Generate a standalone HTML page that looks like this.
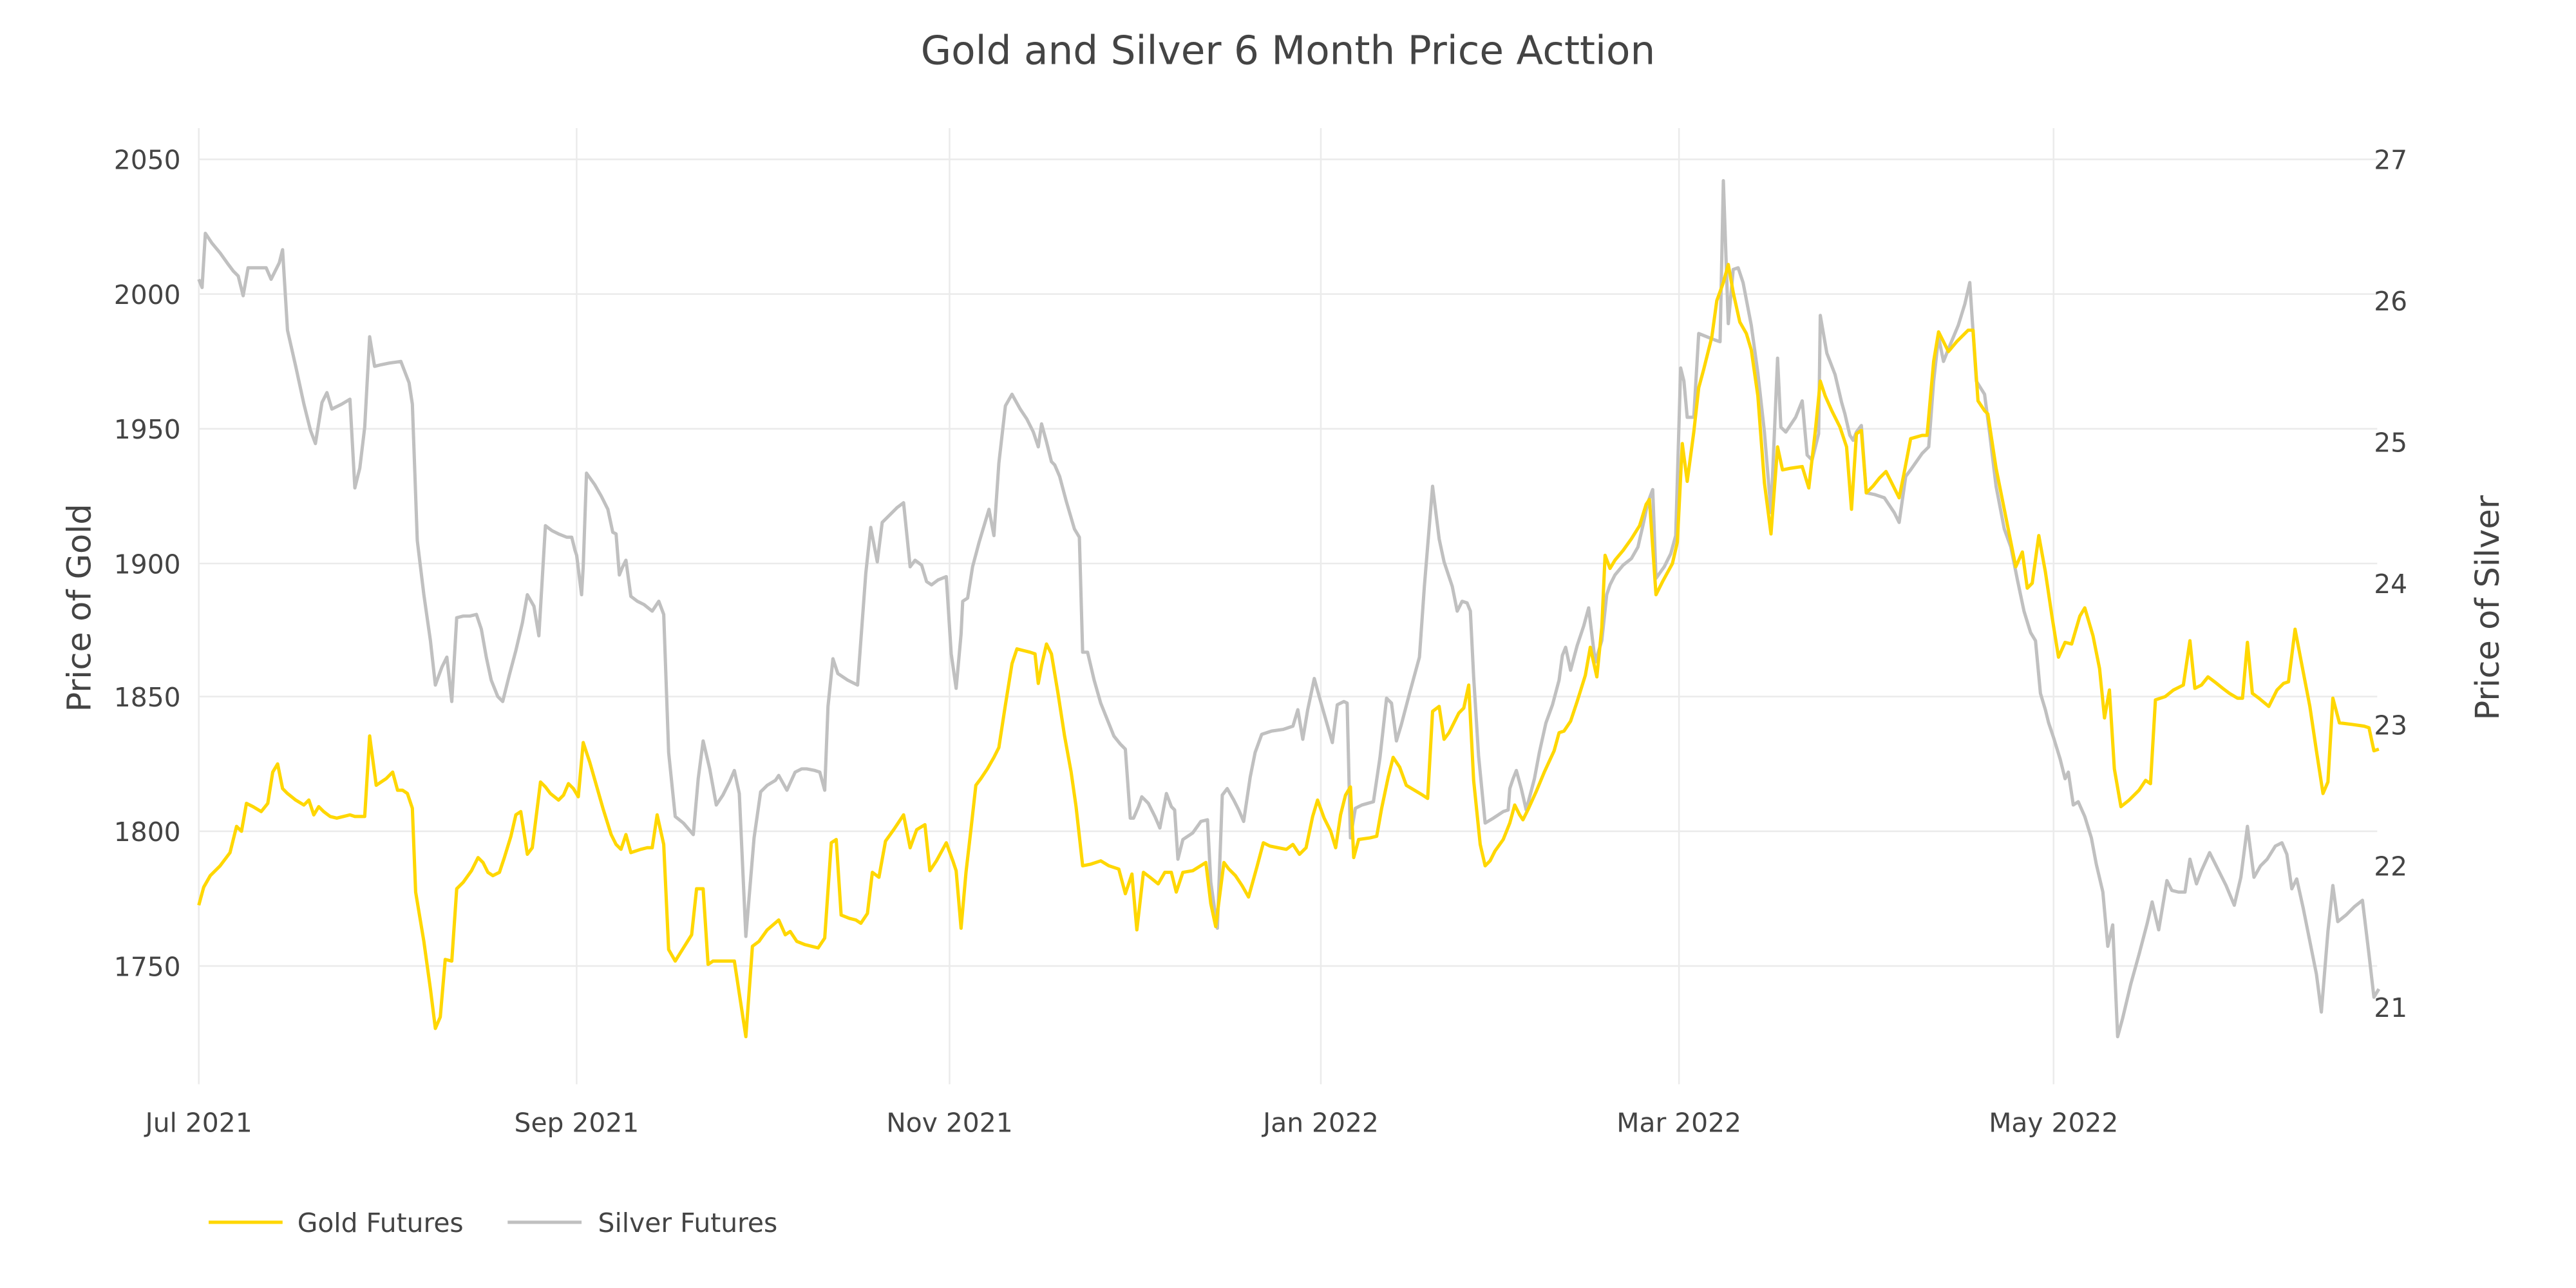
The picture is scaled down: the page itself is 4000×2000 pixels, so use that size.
<!DOCTYPE html>
<html><head><meta charset="utf-8"><style>
html,body{margin:0;padding:0;background:#fff;}
svg{display:block;}
text{font-family:"DejaVu Sans","Liberation Sans",sans-serif;fill:#444;}
</style></head><body>
<svg width="4000" height="2000" viewBox="0 0 1568 784" xmlns="http://www.w3.org/2000/svg">
<rect width="1568" height="784" fill="#fff"/>
<g stroke="#ebebeb" stroke-width="1">
<line x1="121" x2="1447" y1="97" y2="97"/><line x1="121" x2="1447" y1="179" y2="179"/><line x1="121" x2="1447" y1="261" y2="261"/><line x1="121" x2="1447" y1="343" y2="343"/><line x1="121" x2="1447" y1="424" y2="424"/><line x1="121" x2="1447" y1="506" y2="506"/><line x1="121" x2="1447" y1="588" y2="588"/>
<line x1="121" x2="121" y1="78" y2="660"/><line x1="351" x2="351" y1="78" y2="660"/><line x1="578" x2="578" y1="78" y2="660"/><line x1="804" x2="804" y1="78" y2="660"/><line x1="1022" x2="1022" y1="78" y2="660"/><line x1="1250" x2="1250" y1="78" y2="660"/>
</g>
<text x="784" y="39" font-size="24" text-anchor="middle">Gold and Silver 6 Month Price Acttion</text>
<g font-size="16" text-anchor="end">
<text x="110" y="103">2050</text><text x="110" y="185">2000</text><text x="110" y="267">1950</text><text x="110" y="349">1900</text><text x="110" y="430">1850</text><text x="110" y="512">1800</text><text x="110" y="594">1750</text>
</g>
<g font-size="16" text-anchor="start">
<text x="1445" y="103">27</text><text x="1445" y="189">26</text><text x="1445" y="275">25</text><text x="1445" y="361">24</text><text x="1445" y="447">23</text><text x="1445" y="533">22</text><text x="1445" y="619">21</text>
</g>
<g font-size="16" text-anchor="middle">
<text x="121" y="689">Jul 2021</text><text x="351" y="689">Sep 2021</text><text x="578" y="689">Nov 2021</text><text x="804" y="689">Jan 2022</text><text x="1022" y="689">Mar 2022</text><text x="1250" y="689">May 2022</text>
</g>
<text font-size="20" text-anchor="middle" transform="translate(55,370) rotate(-90)">Price of Gold</text>
<text font-size="20" text-anchor="middle" transform="translate(1521,370) rotate(-90)">Price of Silver</text>
<polyline fill="none" stroke="#c0c0c0" stroke-width="2" stroke-linejoin="round" points="121,170 123,175 125,142 129,148 134,154 139,161 142,165 145,168 148,180 151,163 156,163 162,163 165,170 170,160 172,152 175,201 180,223 185,246 189,262 192,270 196,245 199,239 202,249 208,246 213,243 216,297 219,285 222,260 225,205 228,223 232,222 237,221 244,220 249,233 251,246 254,329 258,362 262,390 265,417 269,406 272,400 275,427 278,376 282,375 286,375 290,374 293,383 296,400 299,414 303,424 306,427 310,411 314,396 318,379 321,362 325,369 328,387 332,320 336,323 340,325 345,327 348,327 350,335 351,338 354,362 355,345 357,288 362,295 366,302 370,310 373,324 375,325 377,350 379,345 381,341 384,363 388,366 392,368 397,372 401,366 404,374 407,458 411,497 416,501 422,508 425,474 428,451 432,468 436,490 440,484 444,476 447,469 450,483 454,570 459,510 463,482 467,478 472,475 474,472 479,481 484,470 488,468 491,468 496,469 499,470 502,481 504,430 507,401 510,410 516,414 522,417 527,349 530,321 534,342 537,318 541,314 546,309 550,306 554,345 557,341 561,344 564,354 567,356 571,353 576,351 579,398 582,419 585,386 586,366 589,364 592,345 596,330 602,310 605,326 608,282 612,247 616,240 621,249 625,255 629,263 632,272 634,258 637,269 640,281 642,283 645,290 649,305 654,322 657,327 659,397 662,397 666,414 670,428 674,438 678,448 682,453 685,456 688,498 690,498 693,491 695,485 699,489 703,497 706,504 710,483 713,491 715,493 717,523 720,511 726,507 731,500 735,499 737,537 741,565 744,484 747,480 751,487 754,493 757,500 761,473 764,458 768,447 774,445 781,444 787,442 790,432 793,450 796,432 800,413 803,424 807,438 811,452 814,429 818,427 820,428 822,510 825,492 829,490 836,488 840,461 844,425 847,428 850,451 853,441 858,422 864,400 867,357 872,296 876,328 879,342 884,357 887,372 890,366 893,367 895,372 897,412 900,460 904,501 909,498 915,494 918,493 919,480 921,474 923,469 926,480 929,493 934,474 937,458 941,440 945,429 949,414 951,399 953,394 956,408 960,393 964,381 967,370 971,403 975,390 978,362 980,356 983,350 988,344 993,340 997,333 1000,320 1003,306 1006,298 1008,352 1013,345 1017,337 1020,326 1023,224 1025,232 1027,254 1031,254 1034,203 1039,205 1044,207 1047,208 1049,110 1052,197 1055,164 1058,163 1061,172 1066,198 1070,227 1074,263 1078,312 1082,218 1084,260 1087,263 1093,254 1097,244 1100,277 1103,280 1107,264 1108,192 1112,215 1117,228 1121,245 1123,252 1126,265 1128,268 1130,263 1133,259 1136,300 1141,301 1147,303 1153,312 1156,318 1160,290 1163,286 1170,276 1174,272 1177,232 1180,205 1183,220 1187,210 1192,198 1196,185 1199,172 1203,232 1208,240 1211,263 1215,296 1220,322 1224,333 1228,353 1232,372 1236,385 1239,390 1242,422 1245,432 1247,440 1250,449 1254,462 1257,474 1259,470 1262,490 1265,488 1269,497 1273,510 1276,526 1280,543 1283,576 1286,563 1289,631 1292,620 1297,599 1302,581 1307,562 1310,549 1314,566 1316,554 1319,536 1322,542 1326,543 1330,543 1333,523 1337,538 1340,530 1345,519 1350,529 1355,539 1360,551 1364,534 1368,503 1372,534 1376,527 1380,523 1385,515 1389,513 1392,520 1395,541 1398,535 1402,553 1406,573 1410,593 1413,616 1417,567 1420,539 1423,561 1428,557 1433,552 1438,548 1442,581 1445,607 1448,602"/>
<polyline fill="none" stroke="#ffd700" stroke-width="2" stroke-linejoin="round" points="121,551 124,540 128,533 134,527 140,519 144,503 147,506 150,489 154,491 159,494 163,489 166,470 169,465 172,480 175,483 180,487 185,490 188,487 191,496 194,491 197,494 201,497 205,498 209,497 213,496 216,497 219,497 222,497 225,448 229,478 232,476 235,474 239,470 242,481 245,481 248,483 251,492 253,543 258,573 262,602 265,626 268,619 271,584 275,585 278,541 282,537 287,530 291,522 294,525 297,531 300,533 304,531 307,522 311,509 314,496 317,494 321,520 324,516 329,476 332,479 335,483 340,487 343,484 346,477 349,480 352,485 355,452 359,464 363,478 367,492 372,508 375,514 378,517 381,508 384,519 390,517 394,516 397,516 400,496 404,514 407,578 411,585 416,577 421,569 424,541 428,541 431,587 434,585 440,585 447,585 454,631 458,576 462,573 467,566 474,560 478,569 481,567 485,573 490,575 494,576 498,577 502,571 506,513 509,511 512,557 517,559 521,560 524,562 528,556 531,531 535,534 539,512 544,505 550,496 554,516 558,505 563,502 566,530 570,524 576,513 580,524 582,530 585,565 588,531 591,505 594,478 597,474 601,468 605,461 608,455 612,429 616,404 619,395 623,396 627,397 630,398 632,416 634,405 637,392 640,398 644,422 648,448 652,470 655,491 659,527 664,526 670,524 675,527 681,529 685,544 689,532 692,566 696,531 700,534 705,538 709,531 713,531 716,543 720,531 726,530 734,525 737,550 740,564 745,525 748,529 752,533 756,539 760,546 765,528 769,513 773,515 778,516 783,517 787,514 791,520 795,516 799,497 802,487 806,498 810,506 813,516 816,496 819,484 822,479 824,522 827,511 834,510 838,509 841,492 845,473 848,461 852,467 856,478 866,484 869,486 872,433 876,430 879,450 882,446 888,434 891,431 894,417 897,475 901,514 904,527 907,524 910,518 915,511 919,501 922,490 925,496 927,499 930,493 935,482 940,470 946,457 949,446 952,445 956,439 960,427 965,411 968,394 972,412 975,382 977,338 980,346 983,341 988,335 993,328 998,320 1002,307 1004,304 1008,362 1012,354 1018,343 1021,330 1024,270 1027,293 1031,263 1034,236 1037,225 1042,205 1045,183 1049,172 1052,161 1055,178 1059,196 1063,203 1066,213 1070,241 1074,294 1078,325 1082,272 1085,286 1090,285 1097,284 1101,297 1105,262 1108,232 1111,241 1115,250 1120,260 1124,272 1127,310 1130,264 1133,262 1136,300 1140,296 1144,291 1148,287 1153,297 1156,303 1159,288 1163,267 1170,265 1173,265 1177,220 1180,202 1186,214 1191,208 1198,201 1201,201 1204,244 1208,250 1210,252 1215,285 1220,310 1224,330 1227,345 1231,336 1234,358 1237,355 1241,326 1245,348 1249,375 1253,400 1257,391 1261,392 1266,375 1269,370 1274,387 1278,407 1281,437 1284,420 1287,468 1291,491 1296,487 1302,481 1306,475 1309,477 1312,426 1318,424 1323,420 1329,417 1333,390 1336,419 1340,417 1344,412 1348,415 1353,419 1357,422 1362,425 1365,425 1368,391 1371,422 1375,425 1381,430 1386,420 1390,416 1393,415 1397,383 1401,404 1406,430 1410,457 1414,483 1417,476 1420,425 1424,440 1432,441 1439,442 1442,443 1445,457 1448,456"/>
<line x1="127" x2="172" y1="744" y2="744" stroke="#ffd700" stroke-width="2"/>
<text x="181" y="750" font-size="16">Gold Futures</text>
<line x1="309" x2="354" y1="744" y2="744" stroke="#c0c0c0" stroke-width="2"/>
<text x="364" y="750" font-size="16">Silver Futures</text>
</svg>
</body></html>
